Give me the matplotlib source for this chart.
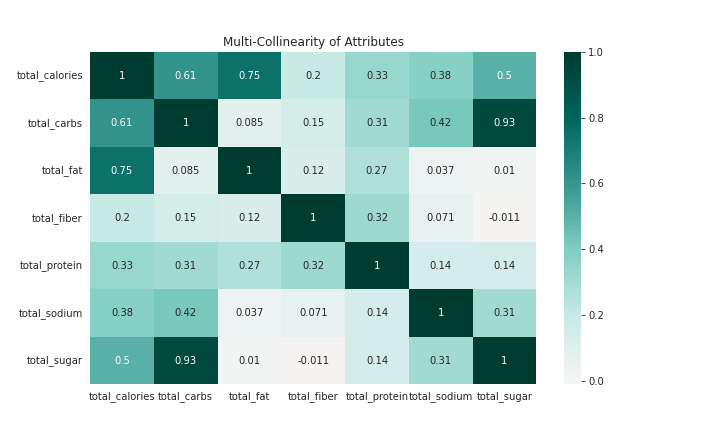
import matplotlib
matplotlib.use('Agg')
import matplotlib.pyplot as plt
import seaborn as sns
import numpy as np
import pandas as pd

sns.set_style('white')

labels = ['total_calories', 'total_carbs', 'total_fat', 'total_fiber',
          'total_protein', 'total_sodium', 'total_sugar']
corr = np.array([
    [1, 0.61, 0.75, 0.2, 0.33, 0.38, 0.5],
    [0.61, 1, 0.085, 0.15, 0.31, 0.42, 0.93],
    [0.75, 0.085, 1, 0.12, 0.27, 0.037, 0.01],
    [0.2, 0.15, 0.12, 1, 0.32, 0.071, -0.011],
    [0.33, 0.31, 0.27, 0.32, 1, 0.14, 0.14],
    [0.38, 0.42, 0.037, 0.071, 0.14, 1, 0.31],
    [0.5, 0.93, 0.01, -0.011, 0.14, 0.31, 1],
])
df = pd.DataFrame(corr, index=labels, columns=labels)

fig, ax = plt.subplots(figsize=(10, 6), dpi=72)
sns.heatmap(df, annot=True, cmap='BrBG', center=0, ax=ax)
ax.set_title('Multi-Collinearity of Attributes')
plt.setp(ax.get_yticklabels(), rotation=0)
plt.setp(ax.get_xticklabels(), rotation=0)
fig.savefig('out.png')
